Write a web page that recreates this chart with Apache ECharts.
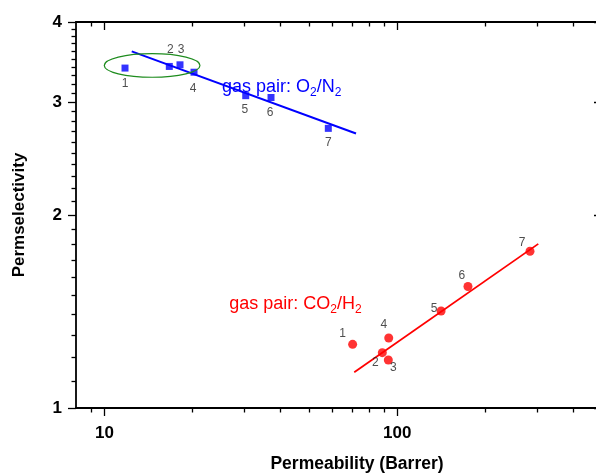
<!DOCTYPE html>
<html>
<head>
<meta charset="utf-8">
<script src="https://cdn.jsdelivr.net/npm/echarts@6/dist/echarts.min.js"></script>
<style>
  html, body { margin: 0; padding: 0; background: #fff; }
  #chart { width: 596px; height: 475px; }
</style>
</head>
<body>
<div id="chart"></div>
<script>
// O2/N2 permselectivity vs O2 permeability (samples 1-7)
const o2n2Perm = [11.76, 16.66, 18.12, 20.23, 30.38, 37.06, 58.15];
const o2n2Sel = [3.39, 3.41, 3.43, 3.34, 3.07, 3.05, 2.73];
// fitted trend line end points for O2/N2
const o2n2FitPerm = [12.4, 72.3];
const o2n2FitSel = [3.60, 2.68];

// CO2/H2 permselectivity vs CO2 permeability (samples 1-7)
const co2h2Perm = [70.4, 88.9, 93.2, 93.5, 141.1, 174.3, 283.9];
const co2h2Sel = [1.257, 1.220, 1.188, 1.286, 1.417, 1.547, 1.756];
// fitted trend line end points for CO2/H2
const co2h2FitPerm = [71.3, 303.0];
const co2h2FitSel = [1.137, 1.803];

const sampleNames = ['1', '2', '3', '4', '5', '6', '7'];

// outline grouping O2/N2 samples 1-4: [permMin, permMax, selMin, selMax]
const groupOutline = [9.99, 21.2, 3.28, 3.57];

// annotation anchors [perm, sel]
const o2n2TextAt = [25.2, 3.17];
const co2h2TextAt = [26.7, 1.453];

// axis ranges and tick values
const xRange = [8, 500];
const yRange = [1, 4];
const xMajorTicks = [10, 100];
const xMinorTicks = [9, 20, 30, 40, 50, 60, 70, 80, 90, 200, 300, 400];
const yMajorTicks = [1, 2, 3, 4];
const yMinorTicks = [1.1, 1.2, 1.3, 1.4, 1.5, 1.6, 1.7, 1.8, 1.9,
                     2.1, 2.2, 2.3, 2.4, 2.5, 2.6, 2.7, 2.8, 2.9,
                     3.1, 3.2, 3.3, 3.4, 3.5, 3.6, 3.7, 3.8, 3.9];

// label nudges (px) for each sample number
const o2n2LabelShift = [[0, 16], [1, -17], [1, -15], [-1, 16], [-1, 14], [-1, 15], [0, 14]];
const co2h2LabelShift = [[-10, -11], [-7, 10], [5, 8], [-5, -13], [-7, -2], [-6, -11], [-8, -9]];

const FONT = '"Liberation Sans", Arial, sans-serif';
const AXIS_COLOR = '#000';

function zip(a, b) { return a.map((v, i) => [v, b[i]]); }

function xAxisDef(position, values, length, inside, showLine, showLabel) {
  return {
    type: 'log', logBase: 10, position: position, min: xRange[0], max: xRange[1],
    gridIndex: 0,
    axisLine: { show: showLine, onZero: false, lineStyle: { color: AXIS_COLOR, width: 1.8 } },
    axisTick: { show: true, inside: inside, length: length, customValues: values,
                lineStyle: { color: AXIS_COLOR, width: 1.3 } },
    axisLabel: { show: showLabel, customValues: values, margin: 17,
                 fontFamily: FONT, fontWeight: 'bold', fontSize: 17, color: '#000',
                 formatter: v => String(Math.round(v)) },
    splitLine: { show: false }, minorTick: { show: false }
  };
}

function yAxisDef(position, values, length, inside, showLine, showLabel) {
  return {
    type: 'log', logBase: 10, position: position, min: yRange[0], max: yRange[1],
    gridIndex: 0,
    axisLine: { show: showLine, onZero: false, lineStyle: { color: AXIS_COLOR, width: 1.8 } },
    axisTick: { show: true, inside: inside, length: length, customValues: values,
                lineStyle: { color: AXIS_COLOR, width: 1.3 } },
    axisLabel: { show: showLabel, customValues: values, margin: 14,
                 fontFamily: FONT, fontWeight: 'bold', fontSize: 17, color: '#000',
                 formatter: v => String(Math.round(v)) },
    splitLine: { show: false }, minorTick: { show: false }
  };
}

const xAxes = [
  Object.assign(xAxisDef('bottom', xMajorTicks, 8, false, true, true), {
    name: 'Permeability (Barrer)', nameLocation: 'middle', nameGap: 47,
    nameTextStyle: { fontFamily: FONT, fontWeight: 'bold', fontSize: 17.5, color: '#000', padding: [0, 0, 0, 36] }
  }),
  xAxisDef('bottom', xMinorTicks, 4.5, false, false, false),
  xAxisDef('top', xMajorTicks, 8, true, true, false),
  xAxisDef('top', xMinorTicks, 4.5, true, false, false)
];

const yAxes = [
  Object.assign(yAxisDef('left', yMajorTicks, 8, false, true, true), {
    name: 'Permselectivity', nameLocation: 'middle', nameGap: 48,
    nameTextStyle: { fontFamily: FONT, fontWeight: 'bold', fontSize: 17, color: '#000' }
  }),
  yAxisDef('left', yMinorTicks, 4.5, false, false, false),
  yAxisDef('right', yMajorTicks, 8, true, true, false),
  yAxisDef('right', yMinorTicks, 4.5, true, false, false)
];

function pointLabel(shift) {
  return {
    label: {
      show: true, position: 'inside', formatter: p => sampleNames[p.dataIndex],
      fontFamily: FONT, fontSize: 12, color: '#222'
    },
    labelLayout: p => ({ dx: shift[p.dataIndex][0], dy: shift[p.dataIndex][1] })
  };
}

// gas-pair caption with lowered subscripts
function gasPairText(at, text, color) {
  return {
    type: 'custom', coordinateSystem: 'cartesian2d', xAxisIndex: 0, yAxisIndex: 0,
    silent: true, z: 5,
    data: [at],
    renderItem: (params, api) => {
      const p = api.coord([api.value(0), api.value(1)]);
      return {
        type: 'text', x: p[0], y: p[1],
        style: {
          text: text, fill: color, fontFamily: FONT, fontSize: 18, lineHeight: 18,
          align: 'left', verticalAlign: 'middle',
          rich: {
            m: { fontFamily: FONT, fontSize: 18, lineHeight: 18, verticalAlign: 'top', fill: color },
            s: { fontFamily: FONT, fontSize: 12, lineHeight: 18, padding: [9, 0, 0, 0],
                 verticalAlign: 'top', fill: color }
          }
        }
      };
    }
  };
}

const chart = echarts.init(document.getElementById('chart'), null, { renderer: 'canvas' });

chart.setOption({
  animation: false,
  backgroundColor: '#fff',
  grid: { left: 76, top: 22, width: 526, height: 386, containLabel: false, outerBoundsMode: 'none' },
  xAxis: xAxes,
  yAxis: yAxes,
  series: [
    // O2/N2 trend line
    {
      type: 'line', xAxisIndex: 0, yAxisIndex: 0, data: zip(o2n2FitPerm, o2n2FitSel),
      symbol: 'none', lineStyle: { color: '#0000ff', width: 2 }, z: 2
    },
    // O2/N2 samples
    Object.assign({
      type: 'scatter', xAxisIndex: 0, yAxisIndex: 0, data: zip(o2n2Perm, o2n2Sel),
      symbol: 'rect', symbolSize: 7, itemStyle: { color: '#0000ff' }, z: 3
    }, pointLabel(o2n2LabelShift)),
    // CO2/H2 trend line
    {
      type: 'line', xAxisIndex: 0, yAxisIndex: 0, data: zip(co2h2FitPerm, co2h2FitSel),
      symbol: 'none', lineStyle: { color: '#ff0000', width: 1.8 }, z: 2
    },
    // CO2/H2 samples
    Object.assign({
      type: 'scatter', xAxisIndex: 0, yAxisIndex: 0, data: zip(co2h2Perm, co2h2Sel),
      symbol: 'circle', symbolSize: 9, itemStyle: { color: '#ff0000' }, z: 3
    }, pointLabel(co2h2LabelShift)),
    // outline around samples 1-4
    {
      type: 'custom', coordinateSystem: 'cartesian2d', xAxisIndex: 0, yAxisIndex: 0,
      silent: true, z: 4,
      data: [groupOutline],
      encode: { x: [0, 1], y: [2, 3] },
      renderItem: (params, api) => {
        const a = api.coord([api.value(0), api.value(3)]);
        const b = api.coord([api.value(1), api.value(2)]);
        return {
          type: 'ellipse',
          shape: { cx: (a[0] + b[0]) / 2, cy: (a[1] + b[1]) / 2,
                   rx: Math.abs(b[0] - a[0]) / 2, ry: Math.abs(b[1] - a[1]) / 2 },
          style: { fill: 'none', stroke: '#1e8c1e', lineWidth: 1.2 }
        };
      }
    },
    gasPairText(o2n2TextAt, '{m|gas pair: O}{s|2}{m|/N}{s|2}', '#0000ff'),
    gasPairText(co2h2TextAt, '{m|gas pair: CO}{s|2}{m|/H}{s|2}', '#ff0000')
  ]
});
</script>
</body>
</html>
